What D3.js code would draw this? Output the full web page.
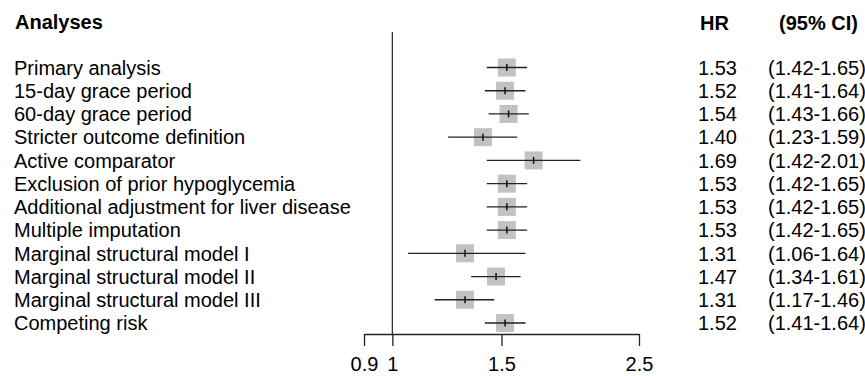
<!DOCTYPE html>
<html><head><meta charset="utf-8">
<script src="https://cdn.jsdelivr.net/npm/d3@7"></script>
<style>body{margin:0;background:#fff}svg{display:block}text{font-family:"Liberation Sans",Arial,sans-serif;fill:#000}</style>
</head><body>
<svg id="c" width="865" height="376"></svg>
<script>
const analyses = ["Primary analysis","15-day grace period","60-day grace period","Stricter outcome definition","Active comparator","Exclusion of prior hypoglycemia","Additional adjustment for liver disease","Multiple imputation","Marginal structural model I","Marginal structural model II","Marginal structural model III","Competing risk"];
const hr    = [1.53,1.52,1.54,1.40,1.69,1.53,1.53,1.53,1.31,1.47,1.31,1.52];
const lower = [1.42,1.41,1.43,1.23,1.42,1.42,1.42,1.42,1.06,1.34,1.17,1.41];
const upper = [1.65,1.64,1.66,1.59,2.01,1.65,1.65,1.65,1.64,1.61,1.46,1.64];
const tickValues = [0.9,1,1.5,2.5];
const tickLabels = ["0.9","1","1.5","2.5"];

const svg = d3.select("#c");
const fs = 20;
const x = d3.scaleLog().domain([0.9,2.5]).range([364,639]);
const y = d3.scalePoint().domain(analyses).range([67.5,323]);

// header
svg.append("text").attr("x",15).attr("y",29).attr("font-weight","bold").attr("font-size",fs).text("Analyses");
svg.append("text").attr("x",700).attr("y",30).attr("font-weight","bold").attr("font-size",fs).text("HR");
svg.append("text").attr("x",779).attr("y",30).attr("font-weight","bold").attr("font-size",fs).text("(95% CI)");

// reference line
svg.append("line").attr("x1",x(1)).attr("x2",x(1)).attr("y1",32).attr("y2",334).attr("stroke","#333").attr("stroke-width",1.3);

const rows = svg.append("g").selectAll("g").data(analyses).join("g");
rows.append("text").attr("x",14).attr("y",d=>y(d)).attr("dy","0.36em").attr("font-size",fs).text(d=>d);
rows.append("rect").attr("x",(d,i)=>x(hr[i])-9).attr("y",d=>y(d)-9).attr("width",18).attr("height",18).attr("fill","#c2c2c2");
rows.append("line").attr("x1",(d,i)=>x(lower[i])).attr("x2",(d,i)=>x(upper[i])).attr("y1",d=>y(d)).attr("y2",d=>y(d)).attr("stroke","#222").attr("stroke-width",1.3);
rows.append("line").attr("x1",(d,i)=>x(hr[i])).attr("x2",(d,i)=>x(hr[i])).attr("y1",d=>y(d)-3.5).attr("y2",d=>y(d)+3.5).attr("stroke","#111").attr("stroke-width",1.5);
rows.append("text").attr("x",698).attr("y",d=>y(d)).attr("dy","0.36em").attr("font-size",fs).text((d,i)=>hr[i].toFixed(2));
rows.append("text").attr("x",768).attr("y",d=>y(d)).attr("dy","0.36em").attr("font-size",fs).text((d,i)=>`(${lower[i].toFixed(2)}-${upper[i].toFixed(2)})`);

// axis
const ax = d3.axisBottom(x).tickValues(tickValues).tickFormat((d,i)=>tickLabels[i]).tickSize(12).tickPadding(11).tickSizeOuter(0);
const g = svg.append("g").attr("transform","translate(0,334)").call(ax);
g.select(".domain").attr("stroke","#222").attr("stroke-width",1.3);
g.selectAll(".tick line").attr("stroke","#222").attr("stroke-width",1.3);
g.selectAll(".tick text").attr("font-size",fs).attr("font-family","Liberation Sans, Arial, sans-serif").attr("fill","#000");
</script>
</body></html>
